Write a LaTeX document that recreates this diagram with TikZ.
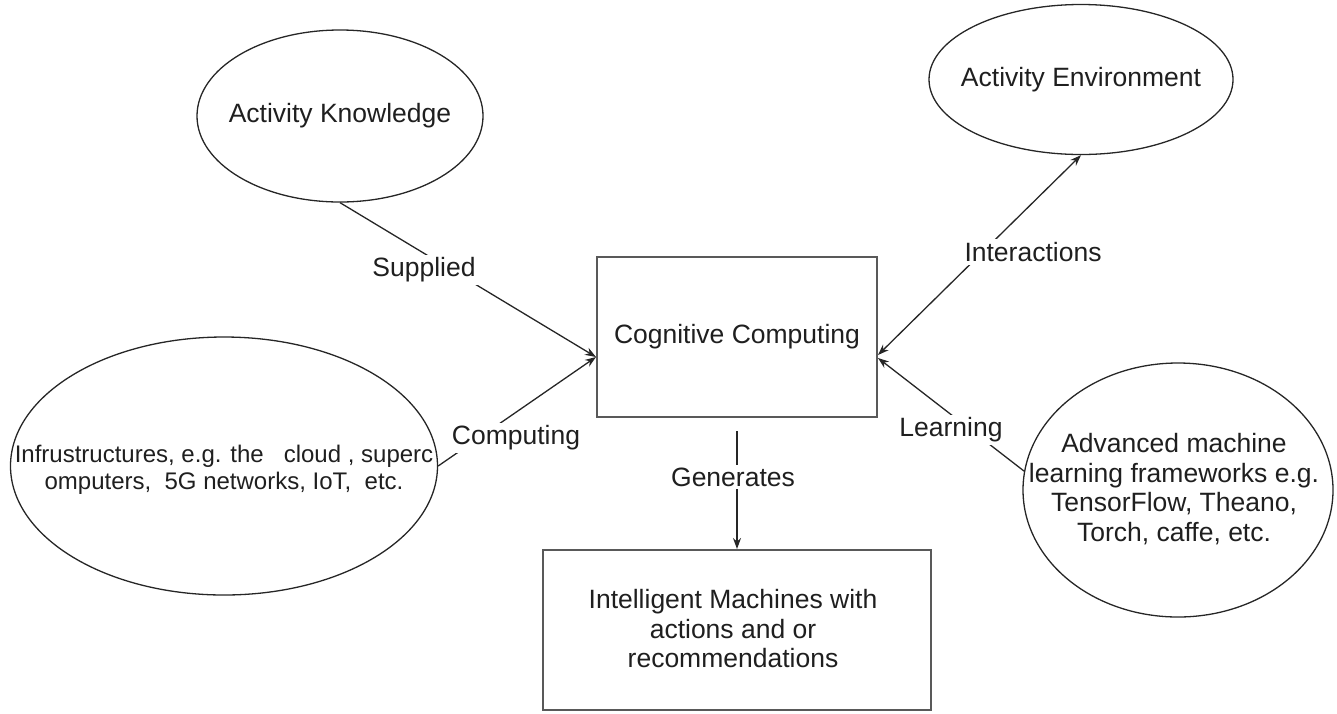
\documentclass[tikz,border=0pt]{standalone}
\usepackage{fontspec}
\setmainfont{Liberation Sans}
\usetikzlibrary{shapes.geometric,arrows.meta}
\begin{document}
\begin{tikzpicture}[x=1pt,y=-1pt,
  ell/.style={draw=black!85, line width=1.3pt, ellipse, inner sep=0pt},
  boxnode/.style={draw=black!65, line width=2pt, rectangle, inner sep=0pt},
  txt/.style={text=black!88, font=\fontsize{26.5}{29.5}\selectfont, align=center, inner sep=0pt},
  lbl/.style={text=black!88, font=\fontsize{26.5}{29}\selectfont, fill=white, inner sep=3pt},
  conn/.style={draw=black!85, line width=1.3pt},
  tip/.style={-{Stealth[length=11pt,width=8pt]}}
]
\path[use as bounding box] (0,0) rectangle (1337,713);

% shapes
\node[ell, minimum width=286pt, minimum height=172pt] (ak) at (340,116) {};
\node[ell, minimum width=304pt, minimum height=150pt] (ae) at (1081,79.5) {};
\node[ell, minimum width=427pt, minimum height=258pt] (inf) at (224,466) {};
\node[ell, minimum width=310pt, minimum height=254pt] (ml) at (1178,490) {};
\node[boxnode, minimum width=280pt, minimum height=160pt] (cc) at (737,337) {};
\node[boxnode, minimum width=388pt, minimum height=160pt] (im) at (737,630) {};

% texts
\node[txt] (akt) at (ak) {Activity Knowledge};
\node[txt] (aet) at (ae) {Activity Environment};
\node[txt, font=\fontsize{24}{26.5}\selectfont] (inft) at (224,470) {Infrustructures, e.g. the\ \ \ cloud , superc\\omputers,\ \ 5G networks, IoT,\ \ etc.};
\node[txt] (mlt) at (1174,489) {Advanced machine\\learning frameworks e.g.\\TensorFlow, Theano,\\Torch, caffe, etc.};
\node[txt] (cct) at (737,337) {Cognitive Computing};
\node[txt] (imt) at (733,629) {Intelligent Machines with\\actions and or\\recommendations};

% connectors
\draw[conn, tip] (ak.south) -- ([yshift=-20pt]cc.west);
\draw[conn, tip] (inf.east) -- ([yshift=-20pt]cc.west);
\draw[conn, {Stealth[length=11pt,width=8pt]}-{Stealth[length=11pt,width=8pt]}] ([yshift=-18pt]cc.east) -- (ae.south);
\draw[conn, tip] (ml.173) -- ([yshift=-21pt]cc.east);
\draw[conn, tip, shorten <=13pt] (cc.south) -- (im.north);

% connector labels
\node[lbl] (l1) at (424,270) {Supplied};
\node[lbl] (l2) at (516,438) {Computing};
\node[lbl] (l3) at (1033,252) {Interactions};
\node[lbl] (l4) at (951,430) {Learning};
\node[lbl] (l5) at (733,477) {Generates};
\end{tikzpicture}
\end{document}
